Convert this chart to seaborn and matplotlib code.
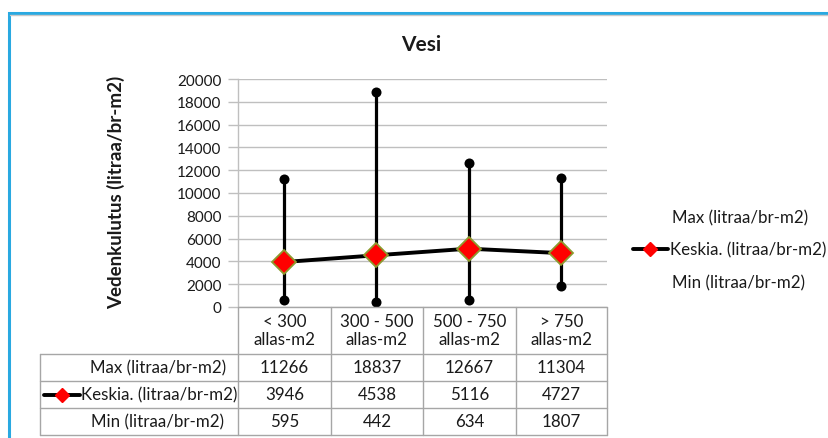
import matplotlib
matplotlib.use("Agg")
import matplotlib.pyplot as plt
import numpy as np
import pandas as pd
import seaborn as sns
from matplotlib.lines import Line2D
from matplotlib.patches import Rectangle

# Water consumption per pool-size class (litres per gross m2)
categories = ["< 300\nallas-m2", "300 - 500\nallas-m2", "500 - 750\nallas-m2", "> 750\nallas-m2"]
max_vals = [11266, 18837, 12667, 11304]
mean_vals = [3946, 4538, 5116, 4727]
min_vals = [595, 442, 634, 1807]
series_names = ["Max (litraa/br-m2)", "Keskia. (litraa/br-m2)", "Min (litraa/br-m2)"]
y_ticks = list(range(0, 20001, 2000))
title = "Vesi"
y_label = "Vedenkulutus (litraa/br-m2)"

df = pd.DataFrame({"pos": np.arange(len(categories)), "max": max_vals,
                   "mean": mean_vals, "min": min_vals})

W, H = 829, 439
sns.set_style("white")
plt.rcParams["font.family"] = ["Lato", "DejaVu Sans"]
TXT = "#1a1a1a"
GRID = "#bfbfbf"
TAB = "#a6a6a6"
FS = 11      # axis numbers
FSL = 12.2   # table and legend text

fig = plt.figure(figsize=(W / 100, H / 100), dpi=100)


def fx(px):
    return px / W


def fy(py):
    return 1 - py / H


# outer frame
fig.add_artist(Rectangle((fx(9), fy(900)), 2, (900 - 14) / H, transform=fig.transFigure,
                         facecolor="none", edgecolor="#29a9e1", lw=2.2))
fig.add_artist(Line2D([fx(10), 1], [fy(16), fy(16)], color="#c9c9c9", lw=1, transform=fig.transFigure))

x0, x1, ytop, ybot = 238, 607, 80, 308
ax = fig.add_axes([fx(x0), fy(ybot), fx(x1) - fx(x0), fy(ytop) - fy(ybot)])

mk_edge = "#8d9a2e"
ax.vlines(df["pos"], df["min"], df["max"], color="black", lw=2.3, zorder=3)
sns.scatterplot(data=df, x="pos", y="max", ax=ax, color="black", s=52,
                edgecolor="black", linewidth=0, zorder=4, legend=False)
sns.scatterplot(data=df, x="pos", y="min", ax=ax, color="black", s=52,
                edgecolor="black", linewidth=0, zorder=4, legend=False)
sns.lineplot(data=df, x="pos", y="mean", ax=ax, color="black", lw=2.8, marker="D",
             markersize=12, markerfacecolor="#ff0000", markeredgecolor=mk_edge,
             markeredgewidth=1.3, zorder=5)

ax.set_xlim(-0.5, len(categories) - 0.5)
ax.set_ylim(0, 20000)
ax.set_yticks(y_ticks)
ax.set_yticklabels([str(v) for v in y_ticks], fontsize=FS, color=TXT)
ax.set_xticks([])
ax.set_xlabel("")
ax.set_ylabel("")
ax.grid(axis="y", color=GRID, lw=1)
ax.set_axisbelow(True)
for s in ["top", "right", "bottom"]:
    ax.spines[s].set_visible(False)
ax.spines["left"].set_color(GRID)
ax.spines["left"].set_linewidth(1)
ax.tick_params(axis="y", length=7, width=1, color=GRID, pad=5, left=True)

fig.text(fx(421), fy(45), title, ha="center", va="center", fontsize=15,
         fontweight="bold", color=TXT)
fig.text(fx(116), fy(192), y_label, ha="center", va="center", rotation=90,
         fontsize=13.5, fontweight="bold", color=TXT)

# data table under the plot
col_edges = [238, 331, 423, 516, 607]
row_edges = [308, 355, 382, 409, 436]
tl = dict(color=TAB, lw=1, transform=fig.transFigure)
for i, yy in enumerate(row_edges):
    xs = 238 if i == 0 else 40
    fig.add_artist(Line2D([fx(xs), fx(607)], [fy(yy), fy(yy)], **tl))
fig.add_artist(Line2D([fx(40), fx(40)], [fy(355), fy(436)], **tl))
for xx in col_edges:
    fig.add_artist(Line2D([fx(xx), fx(xx)], [fy(308), fy(436)], **tl))

centers = [(a + b) / 2 for a, b in zip(col_edges[:-1], col_edges[1:])]
for c, lab in zip(centers, categories):
    fig.text(fx(c), fy(331), lab, ha="center", va="center", fontsize=FSL,
             color=TXT, linespacing=1.1)
rows = [max_vals, mean_vals, min_vals]
row_mid = [(a + b) / 2 for a, b in zip(row_edges[1:-1], row_edges[2:])]


def key(xa, xb, yy):
    fig.add_artist(Line2D([fx(xa), fx(xb)], [fy(yy), fy(yy)], color="black", lw=2.8,
                          transform=fig.transFigure))
    fig.add_artist(Line2D([fx((xa + xb) / 2)], [fy(yy)], color="black", lw=0, marker="D",
                          markersize=7, markerfacecolor="#ff0000",
                          markeredgecolor="#ff0000", transform=fig.transFigure))


for ry, vals, name in zip(row_mid, rows, series_names):
    for c, v in zip(centers, vals):
        fig.text(fx(c), fy(ry), str(v), ha="center", va="center", fontsize=FSL, color=TXT)
    if name.startswith("Keskia"):
        key(44, 80, ry)
        fig.text(fx(81), fy(ry), name, ha="left", va="center", fontsize=FSL, color=TXT)
    else:
        fig.text(fx(158), fy(ry), name, ha="center", va="center", fontsize=FSL, color=TXT)

# legend on the right
leg_y = [218, 250, 283]
for yy, name in zip(leg_y, series_names):
    if name.startswith("Keskia"):
        key(633, 668, yy)
        fig.text(fx(670), fy(yy), name, ha="left", va="center", fontsize=FSL, color=TXT)
    else:
        fig.text(fx(672), fy(yy), name, ha="left", va="center", fontsize=FSL, color=TXT)

fig.savefig("out.png", dpi=100, facecolor="white")
